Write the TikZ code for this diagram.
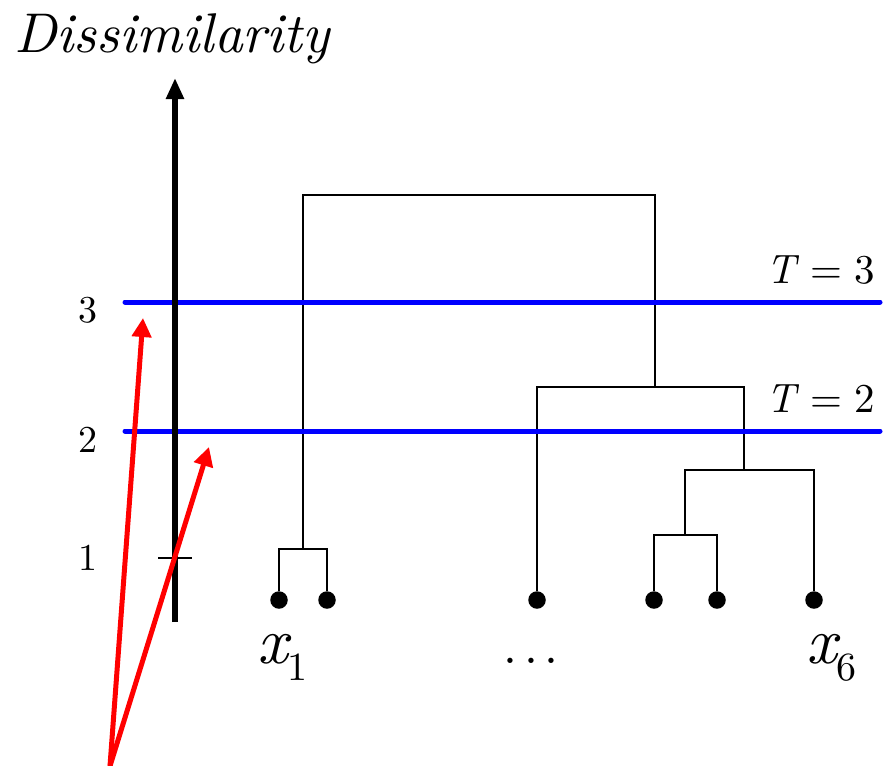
\documentclass[tikz,border=0pt]{standalone}
\usepackage{fontspec}
\setmainfont{lmroman10}[Extension=.otf,UprightFont=*-regular,ItalicFont=*-italic]
\usetikzlibrary{arrows.meta}
\begin{document}
\begin{tikzpicture}[x=1pt,y=-1pt,
  leaf/.style={circle,fill=black,inner sep=0pt,minimum size=17.5pt},
  tree/.style={line width=1.8pt},
  thr/.style={blue,line width=5pt,line cap=round},
  axisline/.style={line width=5.5pt,-{Triangle[length=21pt,width=17pt]}},
  ptr/.style={red,line width=5pt,-{Triangle[length=19pt,width=19pt]}},
  ticklbl/.style={inner sep=0pt,font=\fontsize{38}{44}\selectfont},
  thrlbl/.style={inner sep=0pt,anchor=base east,font=\fontsize{41}{46}\selectfont},
  xlbl/.style={inner sep=0pt,anchor=base west}
]
\useasboundingbox (0,0) rectangle (887,766);

% leaves
\node[leaf] (l1) at (279,600) {};
\node[leaf] (l2) at (327,600) {};
\node[leaf] (l3) at (537,600) {};
\node[leaf] (l4) at (654,600) {};
\node[leaf] (l5) at (717,600) {};
\node[leaf] (l6) at (814,600) {};

% junctions
\coordinate (c12) at (303,549);
\coordinate (c45) at (685,535);
\coordinate (c456) at (744,470);
\coordinate (c3456) at (655,387);
\coordinate (root) at (478,195);

% dendrogram
\draw[tree] (l1) |- (c12) -| (l2);
\draw[tree] (l4) |- (c45) -| (l5);
\draw[tree] (c45) |- (c456) -| (l6);
\draw[tree] (l3) |- (c3456) -| (c456);
\draw[tree] (c12) |- (root) -| (c3456);

% thresholds
\coordinate (t3L) at (125,302);
\coordinate (t3R) at (880,302);
\coordinate (t2L) at (125,431);
\coordinate (t2R) at (880,431);
\draw[thr] (t3L) -- (t3R);
\draw[thr] (t2L) -- (t2R);
\node[thrlbl] (T3) at (875,283) {\textit{T}\hspace{0.28em}=\hspace{0.28em}3};
\node[thrlbl] (T2) at (875,412) {\textit{T}\hspace{0.28em}=\hspace{0.28em}2};

% axis
\coordinate (axb) at (175,622);
\coordinate (axt) at (175,78);
\draw[axisline] (axb) -- (axt);
\node[inner sep=0pt,anchor=base west,font=\fontsize{56}{62}\selectfont\itshape] (title) at (14,52) {Dissimilarity};
\coordinate (tickL) at (158,558);
\coordinate (tickR) at (192,558);
\draw[line width=1.3pt] (tickL) -- (tickR);
\node[ticklbl] (n3) at (88,310) {3};
\node[ticklbl] (n2) at (88,440) {2};
\node[ticklbl] (n1) at (88,558) {1};

% leaf labels
\node[xlbl] (x1) at (257,663) {{\fontsize{66}{72}\selectfont\itshape x}{\fontsize{40}{46}\selectfont\raisebox{-17pt}{1}}};
\node[xlbl] (x6) at (806,663) {{\fontsize{66}{72}\selectfont\itshape x}{\fontsize{40}{46}\selectfont\raisebox{-17pt}{6}}};
\node[inner sep=0pt,anchor=base,font=\fontsize{50}{54}\selectfont] (dots) at (531,663) {.\hspace{7pt}.\hspace{7pt}.};

% pointers
\coordinate (src) at (110,766);
\coordinate (p3) at (143,318);
\coordinate (p2) at (209,447);
\draw[ptr] (src) -- (p3);
\draw[ptr] (src) -- (p2);
\end{tikzpicture}
\end{document}
